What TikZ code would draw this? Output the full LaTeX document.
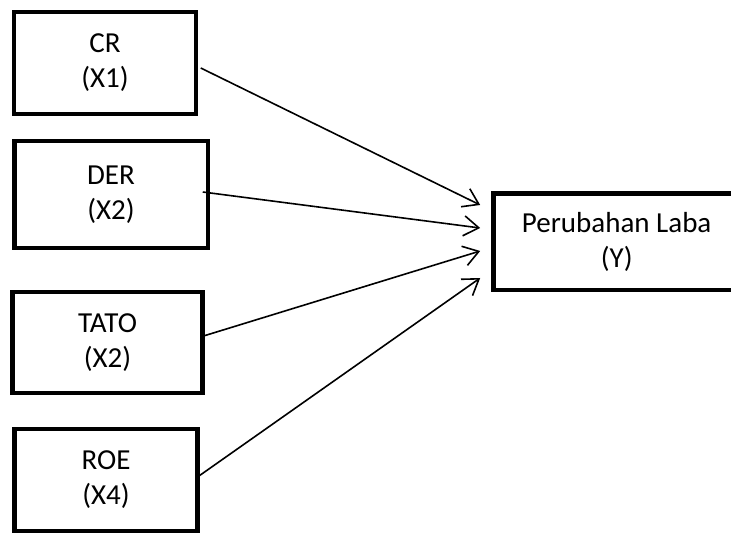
\documentclass[tikz,border=0pt]{standalone}
\usepackage{fontspec}
\setmainfont{Carlito}
\usetikzlibrary{arrows.meta}
\begin{document}
\begin{tikzpicture}[x=1pt,y=-1pt,
  varbox/.style={draw=black, line width=4.5pt, rectangle, inner sep=0pt, outer sep=0pt,
    align=center, font=\fontsize{29}{35}\selectfont},
  arr/.style={-{Straight Barb[length=15pt,width=20pt,line width=1.6pt]}, line width=1.6pt}]
\clip (0,0) rectangle (731,534);
\fill[white] (0,0) rectangle (731,534);
\node[varbox, minimum width=182pt, minimum height=102pt] (cr) at (105,63) {CR\\(X1)};
\node[varbox, minimum width=193.5pt, minimum height=107pt] (der) at (111,194.5) {DER\\(X2)};
\node[varbox, minimum width=190pt, minimum height=101pt] (tato) at (107.5,342.5) {TATO\\(X2)};
\node[varbox, minimum width=183pt, minimum height=101.5pt] (roe) at (106,480) {ROE\\(X4)};
\node[varbox, minimum width=246.5pt, minimum height=96.5pt] (y) at (616.7,242) {Perubahan Laba\\(Y)};
\draw[arr] ([xshift=4.75pt,yshift=-5pt]cr.east) -- ([xshift=-13.25pt,yshift=37pt]y.west);
\draw[arr] ([xshift=-5pt,yshift=2.5pt]der.east) -- ([xshift=-13.25pt,yshift=14pt]y.west);
\draw[arr] ([xshift=1pt,yshift=6.5pt]tato.east) -- ([xshift=-13.25pt,yshift=-9pt]y.west);
\draw[arr] ([xshift=0pt,yshift=3pt]roe.east) -- ([xshift=-13.25pt,yshift=-36pt]y.west);
\end{tikzpicture}
\end{document}
